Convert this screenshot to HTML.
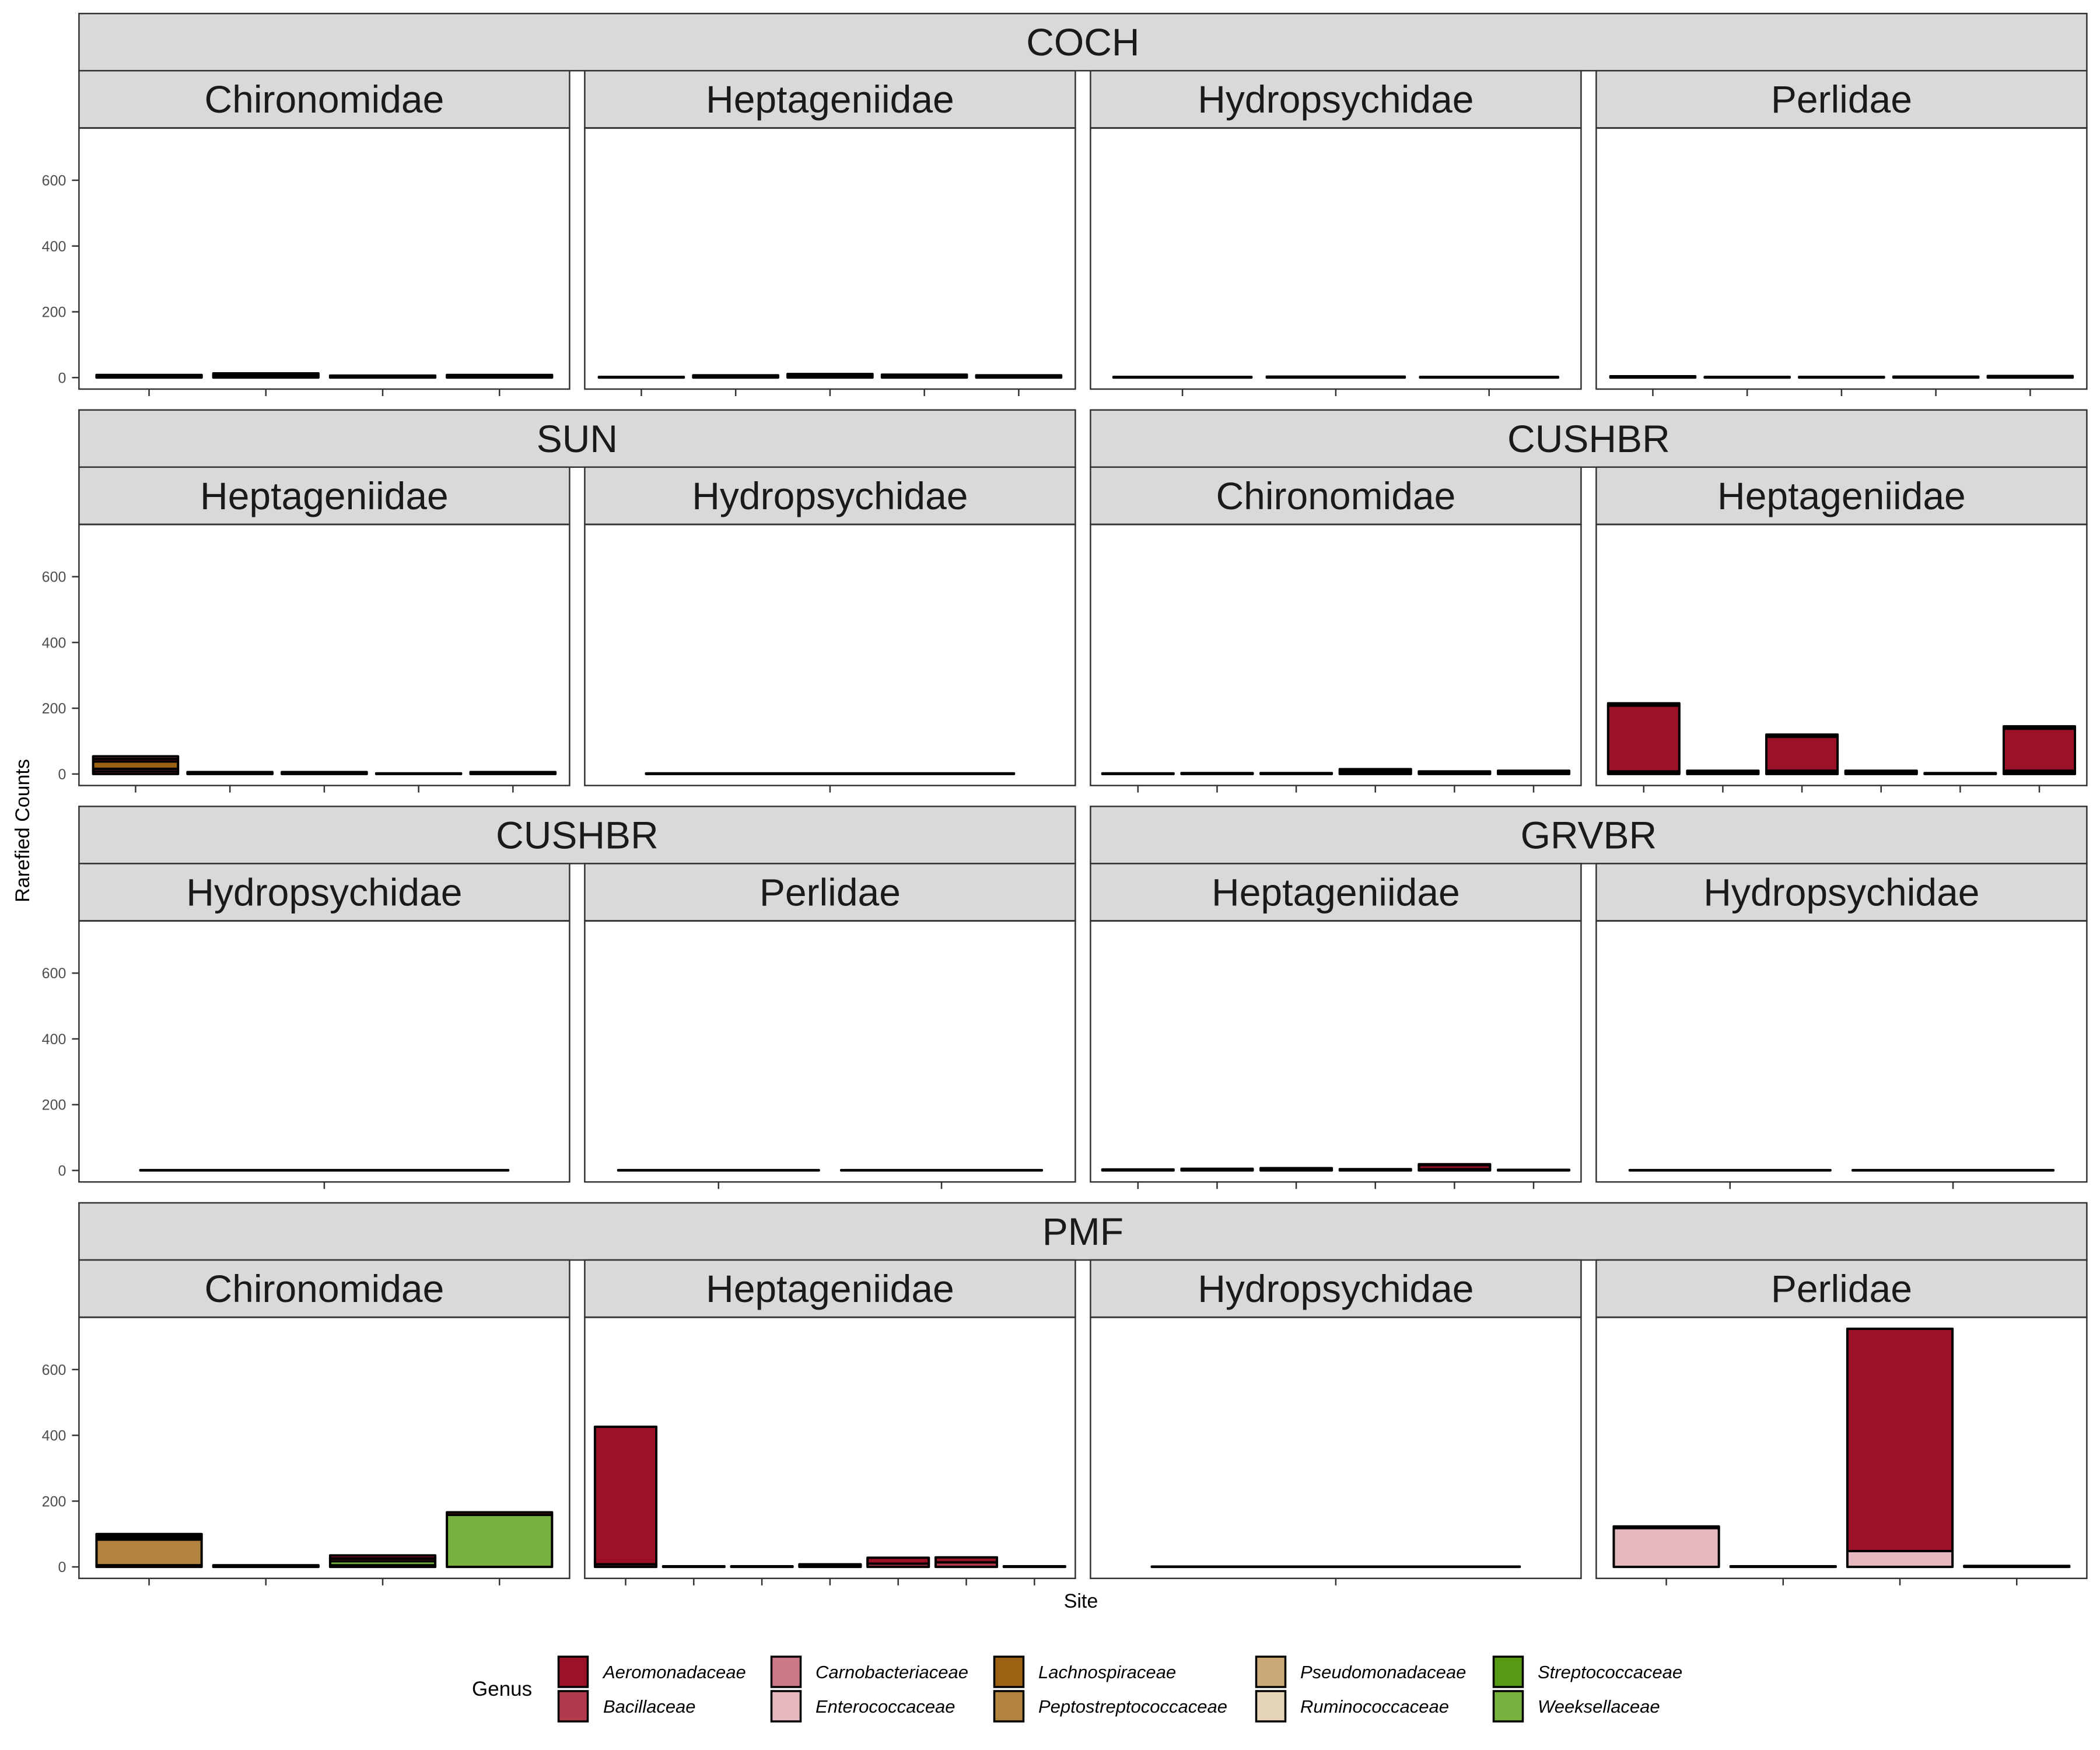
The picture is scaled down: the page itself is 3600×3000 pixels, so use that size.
<!DOCTYPE html>
<html><head><meta charset="utf-8">
<style>
html,body{margin:0;padding:0;background:#fff;}
svg{display:block;font-family:"Liberation Sans",Arial,sans-serif;}
</style></head>
<body>
<svg id="chart" width="3600" height="3000" viewBox="0 0 3600 3000" xmlns="http://www.w3.org/2000/svg"></svg>
<script>
// ---- data ----
const genera = ["Aeromonadaceae","Bacillaceae","Carnobacteriaceae","Enterococcaceae","Lachnospiraceae","Peptostreptococcaceae","Pseudomonadaceae","Ruminococcaceae","Streptococcaceae","Weeksellaceae"];
const genusColors = ["#9a1128","#b23a4e","#cc7a87","#e6b8c0","#9a6212","#b3843f","#ccaa78","#e6d4b8","#559a12","#79b33f"];
const yTicks = [0,200,400,600];
const yTickLabels = ["0","200","400","600"];
const yMax = 760;
// strips: [row, startCol, endCol, label]
const outerStrips = [[0,0,3,"COCH"],[1,0,1,"SUN"],[1,2,3,"CUSHBR"],[2,0,1,"CUSHBR"],[2,2,3,"GRVBR"],[3,0,3,"PMF"]];
const panelTaxa = [
  ["Chironomidae","Heptageniidae","Hydropsychidae","Perlidae"],
  ["Heptageniidae","Hydropsychidae","Chironomidae","Heptageniidae"],
  ["Hydropsychidae","Perlidae","Heptageniidae","Hydropsychidae"],
  ["Chironomidae","Heptageniidae","Hydropsychidae","Perlidae"]
];
// stacked bars: each bar = list of [genusIndex, count] from bottom
const bars_COCH_Chiro = [[[0,4],[1,4]],[[0,6],[1,7]],[[0,3],[1,3]],[[0,4],[1,4]]];
const bars_COCH_Hepta = [[[0,2]],[[0,3],[1,4]],[[0,5],[1,6]],[[0,4],[1,5]],[[0,3],[1,4]]];
const bars_COCH_Hydro = [[[0,2]],[[0,3]],[[0,2]]];
const bars_COCH_Perl = [[[0,4]],[[0,2]],[[0,2]],[[0,3]],[[0,5]]];
const bars_SUN_Hepta = [[[0,8],[1,8],[4,22],[0,8],[1,8]],[[0,3],[1,3]],[[0,3],[1,3]],[[0,2]],[[0,3],[1,3]]];
const bars_SUN_Hydro = [[[0,2]]];
const bars_CUSH_Chiro = [[[0,2]],[[0,3]],[[0,3]],[[0,4],[1,6],[0,5]],[[0,4],[1,4]],[[0,5],[1,5]]];
const bars_CUSH_Hepta = [[[1,4],[2,4],[0,200],[1,7]],[[0,5],[1,5]],[[1,4],[2,6],[0,103],[1,7]],[[0,4],[2,1],[1,5]],[[0,3]],[[1,4],[2,6],[0,128],[1,7]]];
const bars_CUSH_Hydro = [[[0,1]]];
const bars_CUSH_Perl = [[[0,1]],[[0,1]]];
const bars_GRV_Hepta = [[[0,3]],[[0,5]],[[0,3],[1,4]],[[0,4]],[[1,4],[0,12],[1,3]],[[0,2]]];
const bars_GRV_Hydro = [[[0,1]],[[0,1]]];
const bars_PMF_Chiro = [[[0,5],[5,78],[0,6],[1,6],[0,5]],[[0,5]],[[0,5],[9,12],[0,8],[5,1],[0,9]],[[9,158],[0,8]]];
const bars_PMF_Hepta = [[[1,8],[0,418]],[[0,2]],[[0,2]],[[0,4],[1,4]],[[1,10],[0,18]],[[1,14],[0,15]],[[0,2]]];
const bars_PMF_Hydro = [[[0,1]]];
const bars_PMF_Perl = [[[3,118],[0,5]],[[0,2]],[[3,48],[0,676]],[[0,3]]];
const panelBars = [
  [bars_COCH_Chiro,bars_COCH_Hepta,bars_COCH_Hydro,bars_COCH_Perl],
  [bars_SUN_Hepta,bars_SUN_Hydro,bars_CUSH_Chiro,bars_CUSH_Hepta],
  [bars_CUSH_Hydro,bars_CUSH_Perl,bars_GRV_Hepta,bars_GRV_Hydro],
  [bars_PMF_Chiro,bars_PMF_Hepta,bars_PMF_Hydro,bars_PMF_Perl]
];

// ---- layout ----
const NS = "http://www.w3.org/2000/svg";
const svg = document.getElementById("chart");
const colLeft = c => 135.4 + c*867;
const panelW = 841;
const rowTop = r => 23.2 + r*679.6;
const stripH = 98;
const panelTopOff = 196.4;
const panelBotOff = 643.8;
const y0Off = 624.1;
const pxPerUnit = (624.1-285.8)/600;

function el(tag, attrs, parent){
  const e = document.createElementNS(NS, tag);
  for (const k in attrs) e.setAttribute(k, attrs[k]);
  (parent||svg).appendChild(e);
  return e;
}

// outer strips
outerStrips.forEach(s=>{
  const [r,c0,c1,label]=s;
  const x=colLeft(c0), w=colLeft(c1)+panelW-x, y=rowTop(r);
  const g = el("g",{});
  
  
  el("rect",{x:x,y:y,width:w,height:stripH,fill:"#d9d9d9",stroke:"#333",'stroke-width':2.5},g);
  const t = el("text",{x:x+w/2,y:y+stripH/2+23,'text-anchor':'middle','font-size':66,fill:'#1a1a1a'},g);
  t.textContent = label;
});

for (let r=0;r<4;r++){
  for (let c=0;c<4;c++){
    const x=colLeft(c), top=rowTop(r);
    const g = el("g",{});
    
    
    el("rect",{x:x,y:top+stripH,width:panelW,height:stripH,fill:"#d9d9d9",stroke:"#333",'stroke-width':2.5},g);
    const t = el("text",{x:x+panelW/2,y:top+stripH*1.5+23,'text-anchor':'middle','font-size':66,fill:'#1a1a1a'},g);
    
    
    t.textContent = panelTaxa[r][c];
    const pT = top+panelTopOff, pB = top+panelBotOff, y0 = top+y0Off;
    el("rect",{x:x,y:pT,width:panelW,height:pB-pT,fill:"#fff",stroke:"#333",'stroke-width':2.5},g);
    const yS = v => y0 - v*pxPerUnit;
    if (c===0){
      yTicks.forEach((v,i)=>{
        el("line",{x1:x-12,x2:x,y1:yS(v),y2:yS(v),stroke:"#333",'stroke-width':2.5},g);
        const tl = el("text",{x:x-22,y:yS(v)+9,'text-anchor':'end','font-size':25,fill:'#4d4d4d'},g);
        
        
        tl.textContent = yTickLabels[i];
      });
    }
    const bars = panelBars[r][c];
    const n = bars.length;
    const unit = panelW/(n-1+1.2);
    const xS = i => x + (0.6+i)*unit;
    bars.forEach((segs,i)=>{
      const cx = xS(i);
      el("line",{x1:cx,x2:cx,y1:pB,y2:pB+12,stroke:"#333",'stroke-width':2.5},g);
      const bw = unit*0.9;
      let cum=0;
      segs.forEach(sg=>{
        const [gi,v]=sg;
        const rc = el("rect",{x:cx-bw/2,y:yS(cum+v),width:bw,height:Math.max(v*pxPerUnit,0.1),fill:genusColors[gi],stroke:"#000",'stroke-width':4,'stroke-linejoin':'round'},g);
        
        
        cum+=v;
      });
    });
  }
}

// axis titles
const yt = el("text",{x:0,y:0,transform:"translate(50,1424) rotate(-90)",'text-anchor':'middle','font-size':34,fill:'#000'});


yt.textContent = "Rarefied Counts";
const xt = el("text",{x:1853,y:2756,'text-anchor':'middle','font-size':34,fill:'#000'});


xt.textContent = "Site";

// legend
const lg = el("g",{});


const lt = el("text",{x:809,y:2907,'font-size':35,fill:'#000'},lg);


lt.textContent = "Genus";
const keyX = [956,1321,1703,2152,2559];
const labX = [1034,1398,1780,2229,2636];
const rowY = [2838,2897];
genera.forEach((name,i)=>{
  const col=Math.floor(i/2), row=i%2;
  const eg = el("g",{},lg);
  
  
  el("rect",{x:keyX[col]+1.5,y:rowY[row]+2,width:50,height:52,fill:genusColors[i],stroke:"#000",'stroke-width':3.5},eg);
  const tx = el("text",{x:labX[col],y:rowY[row]+39,'font-size':31,'font-style':'italic',fill:'#000'},eg);
  tx.textContent = name;
});
</script>
</body></html>
